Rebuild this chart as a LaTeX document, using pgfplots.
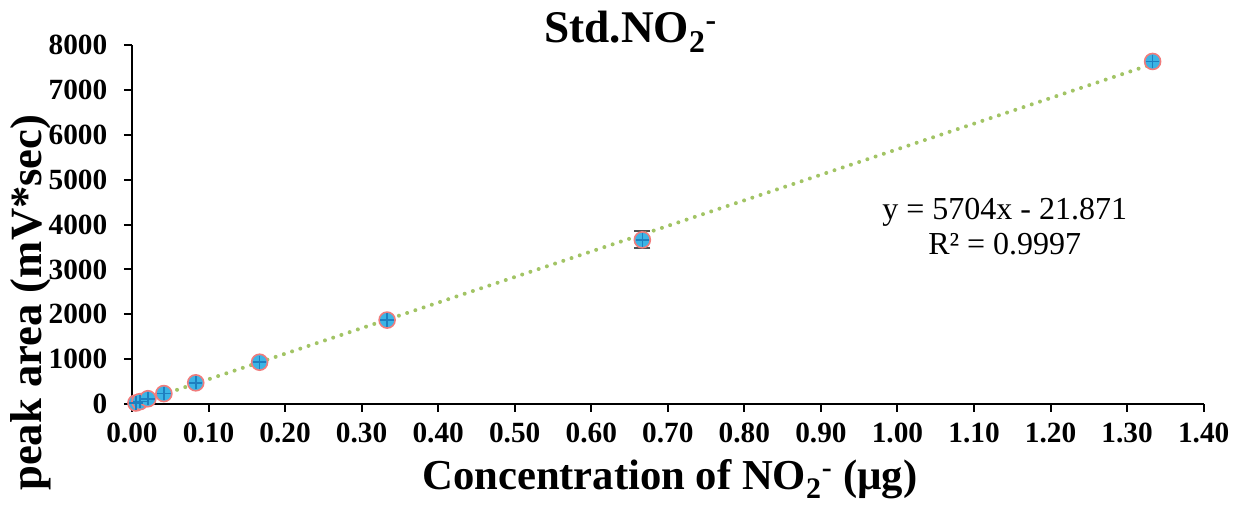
\documentclass[border=0pt]{standalone}
\usepackage{fontspec}
\setmainfont{Liberation Serif}
\usepackage{pgfplots}
\usepackage{pgfplotstable}
\pgfplotsset{compat=1.18}
\definecolor{mfill}{HTML}{3CB4E5}
\definecolor{medge}{HTML}{F07C7C}
\definecolor{mcross}{HTML}{1F7FBF}
\definecolor{trend}{HTML}{A2C465}
\definecolor{ebar}{HTML}{505050}
\pgfplotstableread{
x y e
0.0052 20 0
0.0104 50 0
0.0208 115 0
0.0417 230 0
0.0833 470 0
0.1667 930 0
0.3333 1870 0
0.6667 3660 190
1.3333 7640 0
}\stddata
\begin{document}
\begin{tikzpicture}
\begin{axis}[
  scale only axis, width=804pt, height=269pt,
  at={(0,0)}, anchor=south west,
  xmin=0, xmax=1.4, ymin=0, ymax=8000,
  axis x line*=bottom, axis y line*=left,
  xtick={0,0.1,0.2,0.3,0.4,0.5,0.6,0.7,0.8,0.9,1.0,1.1,1.2,1.3,1.4},
  ytick={0,1000,2000,3000,4000,5000,6000,7000,8000},
  tick align=outside, major tick length=6pt,
  tick style={black, line width=1.5pt},
  axis line style={black, line width=1.5pt},
  ticklabel style={font=\fontsize{22}{26}\selectfont\bfseries},
  xticklabel style={yshift=-5pt, /pgf/number format/.cd, fixed, fixed zerofill, precision=2},
  yticklabel style={xshift=-9pt, /pgf/number format/.cd, fixed, 1000 sep={}},
  /pgf/number format/assume math mode=true,
  clip=false,
]
\addplot[only marks, mark=none, error bars/.cd, y dir=both, y explicit,
  error bar style={color=ebar, line width=1.5pt},
  error mark options={rotate=90, mark size=6pt, line width=1.5pt, color=ebar}]
  table[x=x, y=y, y error=e] {\stddata};
\addplot[only marks, mark=*, mark size=6pt,
  mark options={fill=mfill, draw=medge, line width=1.2pt}]
  table[x=x, y=y] {\stddata};
\addplot[only marks, mark=+, mark size=5pt,
  mark options={draw=mcross, line width=1.2pt}]
  table[x=x, y=y] {\stddata};
\addplot[trend, line width=3pt, line cap=round, dash pattern=on 0pt off 6.5pt]
  coordinates {(0.0052,7.8) (1.3333,7583.5)};
\end{axis}
\node[anchor=base, font=\fontsize{34}{40}\selectfont\bfseries] at (374pt,270.75pt) {Std.NO\textsubscript{2}\textsuperscript{-}};
\node[anchor=base, font=\fontsize{32}{38}\selectfont\bfseries] at (403.5pt,-64.5pt) {Concentration of NO\textsubscript{2}\textsuperscript{-} (µg)};
\node[anchor=base, rotate=90, font=\fontsize{33.5}{38}\selectfont\bfseries] at (-67.5pt,76pt) {peak area (mV*sec)};
\node[anchor=base, font=\fontsize{24}{28}\selectfont] at (654.75pt,138pt) {y = 5704x - 21.871};
\node[anchor=base, font=\fontsize{24}{28}\selectfont] at (654.75pt,111.75pt) {R² = 0.9997};
\pgfresetboundingbox
\useasboundingbox (-99pt,-75.75pt) rectangle (835pt,303pt);
\end{tikzpicture}
\end{document}
